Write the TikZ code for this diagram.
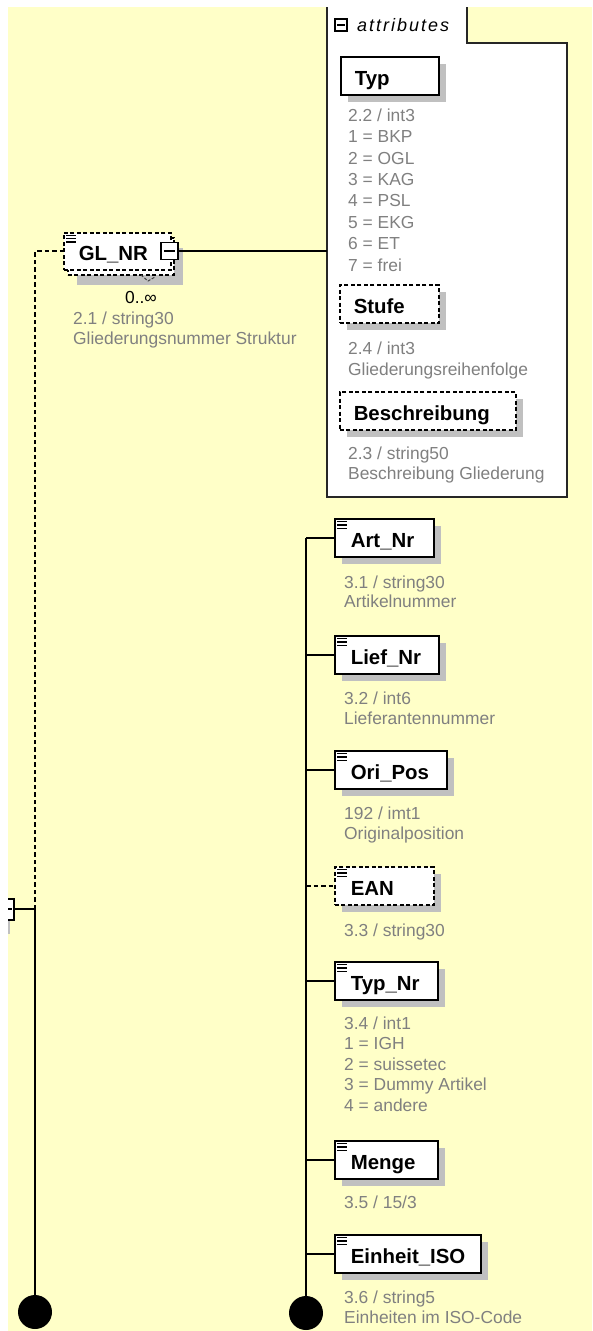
\documentclass[tikz,border=0pt]{standalone}
\usepackage{fontspec}
\setmainfont{Liberation Sans}
\usetikzlibrary{shadows}
\definecolor{bgyellow}{RGB}{255,255,200}
\definecolor{shadowgrey}{RGB}{192,192,192}
\definecolor{annotgrey}{RGB}{128,128,128}
\newcommand\lblfont{\fontsize{20.4}{24}\selectfont\bfseries}
\newcommand\annfont{\fontsize{17.4}{20.8}\selectfont}
\newcommand\annot[5]{\foreach \t [count=\k] in {#5} {\node[annot] (#1\k) at (#2, {#3 + 6.2 + (\k-1)*#4}) {\t};}}
\newcommand\eqicon[1]{\foreach \dy in {3.6,6.8,10}{\draw[line width=1.2pt] ([xshift=3pt,yshift=-\dy pt]#1.north west) -- ++(9.5pt,0pt);}}
\tikzset{
  conn/.style={line width=1.6pt, draw=black},
  dconn/.style={conn, dash pattern=on 4.5pt off 3pt},
  boxbase/.style={rectangle, fill=white, draw=black, minimum height=38pt, inner xsep=16pt, inner ysep=0pt, text height=18pt, text depth=0pt, font=\lblfont, anchor=west},
  shad/.style={drop shadow={shadow xshift=7pt, shadow yshift=-7pt, fill=shadowgrey, opacity=1}},
  solidbox/.style={boxbase, shad, line width=1.6pt},
  optbox/.style={boxbase, line width=1.5pt, dash pattern=on 4pt off 2.5pt},
  annot/.style={anchor=base west, inner sep=0pt, font=\annfont, text=annotgrey},
  ball/.style={circle, fill=black, draw=none, minimum size=34pt, inner sep=0pt},
  minusbox/.style={rectangle, draw=black, fill=white, inner sep=0pt},
}
\begin{document}
\begin{tikzpicture}[x=1pt,y=-1pt]
\useasboundingbox (0,0) rectangle (592,1331);
\fill[white] (0,0) rectangle (592,1331);
\fill[bgyellow] (8,7) rectangle (592,1331);

% attributes panel
\fill[white] (327,0) rectangle (467,43);
\fill[white] (327,43) rectangle (567,497);
\draw[line width=1.8pt, black!85] (327,7) -- (327,497) -- (567,497) -- (567,43) -- (467,43) -- (467,7);
\node[minusbox, line width=1.2pt, minimum size=12pt] (attrminus) at (341,25) {};
\draw[line width=1.2pt] ([xshift=3pt]attrminus.west) -- ([xshift=-3pt]attrminus.east);
\node[anchor=base west, inner sep=0pt, font=\fontsize{18}{20}\selectfont\itshape\addfontfeature{LetterSpace=11}] (attrlbl) at (357,31) {attributes};

\node[solidbox, inner xsep=14pt] (typattr) at (340,76) {\makebox[70pt][l]{Typ}};
\annot{typa}{348}{115}{21.4}{2.2 / int3,1 = BKP,2 = OGL,3 = KAG,4 = PSL,5 = EKG,6 = ET,7 = frei}
\node[optbox, shad, inner xsep=14pt] (stufe) at (339,304) {\makebox[71pt][l]{Stufe}};
\annot{stufea}{348}{348}{21}{2.4 / int3,Gliederungsreihenfolge}
\node[optbox, shad, inner xsep=14pt] (beschr) at (339,411) {\makebox[148pt][l]{Beschreibung}};
\annot{beschra}{348}{453}{20.2}{2.3 / string50,Beschreibung Gliederung}

% GL_NR (multiple occurrence: stacked boxes)
\node[optbox, drop shadow={shadow xshift=9pt, shadow yshift=-10pt, fill=shadowgrey, opacity=1}, minimum width=106pt, minimum height=37pt, anchor=north west] (glback) at (67,237) {};
\node[optbox, minimum width=107pt, minimum height=37pt, anchor=north west, inner xsep=15pt] (glnr) at (63,232) {\makebox[77pt][l]{GL\_NR}};
\eqicon{glnr}
\draw[line width=1pt, black!75, dash pattern=on 3pt off 1.5pt] (141,275) -- (148,281) -- (155,277);
\node[minusbox, line width=1.3pt, minimum size=17pt] (glminus) at (169.5,251) {};
\draw[line width=1.3pt] ([xshift=3.5pt]glminus.west) -- ([xshift=-3.5pt]glminus.east);
\coordinate (panelL) at (327,251);
\draw[conn] (glminus.east) -- (panelL);
\node[anchor=base, inner sep=0pt, font=\annfont] (glocc) at (141,303) {0..∞};
\annot{gla}{73}{318}{20}{2.1 / string30,Gliederungsnummer Struktur}

% left compositor and line
\fill[white] (8,899) rectangle (14,920);
\fill[shadowgrey] (8,921) rectangle (10,934);
\draw[line width=1.5pt] (8,899) -- (14,899) -- (14,920) -- (8,920);
\draw[line width=1.3pt] (8,909) -- (11.5,909);
\coordinate (compE) at (14,909);
\coordinate (ljunc) at (35,909);
\node[ball] (lball) at (35,1312) {};
\draw[dconn] (ljunc) -- (ljunc |- glnr.west) -- (glnr.west);
\draw[conn] (compE) -- (ljunc) -- (lball.north);

% right column
\coordinate (rtop) at (306,538);
\node[ball] (rball) at (306,1313) {};
\draw[conn] (rtop) -- (rball.north);

\node[solidbox] (artnr) at (334,538) {\makebox[67pt][l]{Art\_Nr}};
\node[solidbox] (liefnr) at (334,655) {\makebox[72pt][l]{Lief\_Nr}};
\node[solidbox] (oripos) at (334,770) {\makebox[80pt][l]{Ori\_Pos}};
\node[optbox, shad] (ean) at (334,886) {\makebox[67pt][l]{EAN}};
\node[solidbox] (typnr) at (334,981) {\makebox[71pt][l]{Typ\_Nr}};
\node[solidbox] (menge) at (334,1160) {\makebox[71pt][l]{Menge}};
\node[solidbox] (einheit) at (334,1254) {\makebox[114pt][l]{Einheit\_ISO}};
\foreach \n in {artnr,liefnr,oripos,typnr,menge,einheit}{\draw[conn] (\n.west -| rtop) -- (\n.west);}
\draw[dconn] (ean.west -| rtop) -- (ean.west);
\foreach \n in {artnr,liefnr,oripos,ean,typnr,menge,einheit}{\eqicon{\n}}

\annot{artnra}{344}{582}{19.5}{3.1 / string30,Artikelnummer}
\annot{liefnra}{344}{698}{20}{3.2 / int6,Lieferantennummer}
\annot{oriposa}{344}{813}{20}{192 / imt1,Originalposition}
\annot{eana}{344}{930}{20}{3.3 / string30}
\annot{typnra}{344}{1023}{20.5}{3.4 / int1,1 = IGH,2 = suissetec,3 = Dummy Artikel,4 = andere}
\annot{mengea}{344}{1202}{20}{3.5 / 15/3}
\annot{einheita}{344}{1297}{20}{3.6 / string5,Einheiten im ISO-Code}
\end{tikzpicture}
\end{document}
